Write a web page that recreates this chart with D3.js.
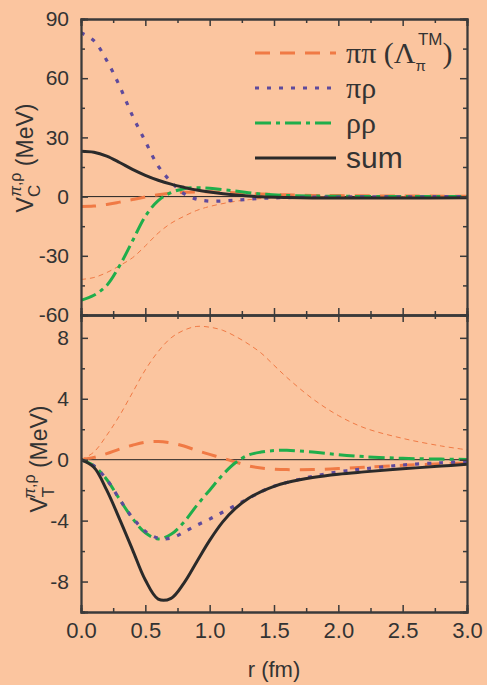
<!DOCTYPE html>
<html>
<head>
<meta charset="utf-8">
<script src="https://cdn.jsdelivr.net/npm/d3@7"></script>
<style>
  html, body { margin: 0; padding: 0; background: #fbc59f; }
  #container { width: 487px; height: 685px; }
  text { font-family: "Liberation Sans", Arial, sans-serif; fill: #333; }
</style>
</head>
<body>
<div id="container"></div>
<script>
// ---- data ----
let rC = [0, 0.1, 0.2, 0.3, 0.4, 0.5, 0.6, 0.7, 0.8, 0.9, 1.0, 1.2, 1.4, 1.6, 1.8, 2.0, 2.5, 3.0];
let vcPiPi     = [-5, -4.8, -4.0, -2.8, -1.5, -0.2, 0.9, 1.7, 2.2, 2.4, 2.4, 1.9, 1.3, 0.9, 0.6, 0.5, 0.3, 0.2];
let vcPiPiThin = [-42, -41, -38.5, -35, -31, -25, -18.5, -13.5, -10, -7, -5, -2.4, -1, -0.4, -0.15, -0.05, 0, 0];
let vcPiRho    = [83, 79, 69, 56, 41, 28, 15.5, 7.5, 1.5, -1.3, -2.3, -1.8, -0.9, -0.5, -0.3, -0.2, -0.1, 0];
let vcRhoRho   = [-52.5, -50, -45, -35, -22.5, -10, -2, 2, 4, 4.5, 4.2, 2.8, 1.3, 0.6, 0.3, 0.15, 0.05, 0];
let vcSum      = [23, 22.5, 20.5, 17.3, 13.8, 10.8, 8.3, 6.3, 4.7, 3.3, 2.3, 0.8, -0.1, -0.5, -0.7, -0.75, -0.7, -0.6];

let rT = [0, 0.1, 0.2, 0.3, 0.4, 0.5, 0.6, 0.7, 0.8, 0.9, 1.0, 1.1, 1.2, 1.3, 1.4, 1.5, 1.6, 1.8, 2.0, 2.2, 2.5, 2.8, 3.0];
let vtPiPiThin = [0, 0.5, 1.6, 2.9, 4.4, 5.9, 7.1, 8.0, 8.5, 8.75, 8.7, 8.5, 8.1, 7.6, 7.0, 6.2, 5.4, 4.0, 2.9, 2.1, 1.4, 0.9, 0.65];
let vtPiPi     = [0, 0.15, 0.4, 0.7, 0.95, 1.15, 1.2, 1.1, 0.9, 0.6, 0.35, 0.1, -0.15, -0.4, -0.55, -0.62, -0.65, -0.65, -0.58, -0.5, -0.37, -0.27, -0.22];
let vtPiRho    = [0, -0.4, -1.3, -2.6, -3.8, -4.7, -5.15, -5.15, -4.75, -4.3, -3.9, -3.45, -3.0, -2.55, -2.1, -1.75, -1.5, -1.1, -0.8, -0.6, -0.35, -0.2, -0.13];
let vtRhoRho   = [0, -0.4, -1.3, -2.6, -3.85, -4.8, -5.2, -4.9, -4.1, -3.0, -2.0, -1.0, -0.2, 0.3, 0.5, 0.6, 0.62, 0.5, 0.33, 0.2, 0.09, 0.04, 0.02];
let vtSum      = [0, -0.5, -2.0, -3.9, -5.9, -7.9, -9.15, -9.1, -8.1, -6.7, -5.3, -4.1, -3.2, -2.55, -2.1, -1.75, -1.5, -1.17, -0.95, -0.8, -0.6, -0.42, -0.3];

let xTicks = [0, 0.5, 1.0, 1.5, 2.0, 2.5, 3.0];
let ycTicks = [-60, -30, 0, 30, 60, 90];
let ytTicks = [-8, -4, 0, 4, 8];

let legendLabels = ['ππ', 'πρ', 'ρρ', 'sum'];

// ---- styles ----
let orange = '#f07a45', purple = '#5e4a9c', green = '#1fae4b', dark = '#2a2a2a', axisCol = '#3a3a3a';
let styles = {
    pipi:    { color: orange, width: 3,   dash: '15,10' },
    pipiThin:{ color: orange, width: 1,   dash: '5,4' },
    pirho:   { color: purple, width: 3.2, dash: '4,8' },
    rhorho:  { color: green,  width: 3,   dash: '16,5,4,5' },
    sum:     { color: dark,   width: 3,   dash: null }
};

let W = 487, H = 685;
let left = 81, right = 467;
let topC = 19, botC = 315, topT = 315, botT = 612;

let viz = d3.select('#container')
    .append('svg')
      .attr('width', W)
      .attr('height', H)
      .style('background', '#fbc59f');

let x = d3.scaleLinear().domain([0, 3]).range([left, right]);
let yC = d3.scaleLinear().domain([-60, 90]).range([botC, topC]);
let yT = d3.scaleLinear().domain([-10, 9.5]).range([botT, topT]);

let defs = viz.append('defs');
defs.append('clipPath').attr('id', 'clipC').append('rect')
    .attr('x', left).attr('y', topC).attr('width', right - left).attr('height', botC - topC);
defs.append('clipPath').attr('id', 'clipT').append('rect')
    .attr('x', left).attr('y', topT).attr('width', right - left).attr('height', botT - topT);

let intFmt = d => String(d); // plain hyphen minus like the original

function drawCurve(g, rs, vs, y, st) {
    let line = d3.line()
        .x((d, i) => x(rs[i]))
        .y(d => y(d))
        .curve(d3.curveCatmullRom.alpha(0.5));
    let p = g.append('path')
        .attr('d', line(vs))
        .attr('fill', 'none')
        .attr('stroke', st.color)
        .attr('stroke-width', st.width);
    if (st.dash) p.attr('stroke-dasharray', st.dash);
}

function panel(y, top, bot, clipId, ticks, minorStep, series, rs) {
    // zero line
    viz.append('line')
        .attr('x1', left).attr('x2', right)
        .attr('y1', y(0)).attr('y2', y(0))
        .attr('stroke', '#222').attr('stroke-width', 1);

    let g = viz.append('g').attr('clip-path', 'url(#' + clipId + ')');
    series.forEach(s => drawCurve(g, rs, s[0], y, s[1]));

    // axes, ticks inside
    let yl = d3.axisLeft(y).tickValues(ticks).tickSize(-7).tickPadding(12).tickFormat(intFmt);
    let yr = d3.axisRight(y).tickValues(ticks).tickSize(-7).tickFormat('');
    let minorY = d3.range(y.domain()[0], y.domain()[1] + 0.001, minorStep).filter(v => ticks.indexOf(v) < 0);
    let ylm = d3.axisLeft(y).tickValues(minorY).tickSize(-4).tickFormat('');
    let yrm = d3.axisRight(y).tickValues(minorY).tickSize(-4).tickFormat('');
    let minorX = d3.range(0.25, 3, 0.5);
    let xt = d3.axisTop(x).tickValues(xTicks).tickSize(-7).tickFormat('');
    let xb = d3.axisBottom(x).tickValues(xTicks).tickSize(-7).tickFormat('');
    let xtm = d3.axisTop(x).tickValues(minorX).tickSize(-4).tickFormat('');
    let xbm = d3.axisBottom(x).tickValues(minorX).tickSize(-4).tickFormat('');

    let axes = [
        [yl, 'translate(' + left + ',0)'], [ylm, 'translate(' + left + ',0)'],
        [yr, 'translate(' + right + ',0)'], [yrm, 'translate(' + right + ',0)'],
        [xt, 'translate(0,' + top + ')'], [xtm, 'translate(0,' + top + ')'],
        [xb, 'translate(0,' + bot + ')'], [xbm, 'translate(0,' + bot + ')']
    ];
    axes.forEach(a => {
        let ag = viz.append('g').attr('transform', a[1]).call(a[0]);
        ag.select('.domain').attr('stroke', axisCol).attr('stroke-width', 1.8);
        ag.selectAll('.tick line').attr('stroke', axisCol).attr('stroke-width', 1.5);
        ag.selectAll('.tick text').attr('font-size', 21).attr('fill', '#333')
          .style('font-family', '"Liberation Sans", Arial, sans-serif');
    });
    return g;
}

panel(yC, topC, botC, 'clipC', ycTicks, 15, [
    [vcPiPiThin, styles.pipiThin],
    [vcPiPi, styles.pipi],
    [vcRhoRho, styles.rhorho],
    [vcPiRho, styles.pirho],
    [vcSum, styles.sum]
], rC);

panel(yT, topT, botT, 'clipT', ytTicks, 2, [
    [vtPiPiThin, styles.pipiThin],
    [vtPiPi, styles.pipi],
    [vtRhoRho, styles.rhorho],
    [vtPiRho, styles.pirho],
    [vtSum, styles.sum]
], rT);

// x tick labels under bottom panel
viz.append('g').attr('transform', 'translate(0,' + botT + ')')
    .call(d3.axisBottom(x).tickValues(xTicks).tickSize(0).tickPadding(10).tickFormat(d3.format('.1f')))
    .call(g => g.select('.domain').remove())
    .selectAll('text').attr('font-size', 22).attr('fill', '#333');

viz.append('text')
    .attr('x', x(1.5)).attr('y', 677)
    .attr('text-anchor', 'middle')
    .attr('font-size', 22)
    .text('r (fm)');

// y labels
function yLabel(cx, cy, sub) {
    let t = viz.append('text')
        .attr('transform', 'translate(' + cx + ',' + cy + ') rotate(-90)')
        .attr('text-anchor', 'middle')
        .attr('font-size', 23);
    t.append('tspan').text('V');
    t.append('tspan').attr('font-size', 17).attr('dy', 7).text(sub);
    t.append('tspan').attr('font-size', 16).attr('dx', -12).attr('dy', -19)
        .attr('font-style', 'italic').text('π');
    t.append('tspan').attr('font-size', 16).attr('font-style', 'normal').text(',ρ');
    t.append('tspan').attr('dy', 12).text(' (MeV)');
}
yLabel(33, 158, 'C');
yLabel(47, 459, 'T');

// legend
let legendStyles = [styles.pipi, styles.pirho, styles.rhorho, styles.sum];
let leg = viz.append('g');
legendLabels.forEach((lab, i) => {
    let ly = 53 + i * 35;
    let st = legendStyles[i];
    let l = leg.append('line')
        .attr('x1', 255).attr('x2', 336)
        .attr('y1', ly).attr('y2', ly)
        .attr('stroke', st.color).attr('stroke-width', st.width);
    if (st.dash) l.attr('stroke-dasharray', st.dash);
    let t = leg.append('text')
        .attr('x', 346).attr('y', ly + 10)
        .attr('font-size', 30);
    if (lab === 'sum') {
        t.text(lab);
    } else {
        t.style('font-family', '"Liberation Serif", "Times New Roman", serif').text(lab);
        if (i === 0) {
            t.append('tspan').text(' (Λ');
            t.append('tspan').attr('font-size', 15).attr('dy', 8)
                .style('font-family', '"Liberation Sans", Arial, sans-serif').text('π');
            t.append('tspan').attr('font-size', 17).attr('dx', -8).attr('dy', -26)
                .style('font-family', '"Liberation Sans", Arial, sans-serif').text('TM');
            t.append('tspan').attr('dy', 18).text(')');
        }
    }
});
</script>
</body>
</html>
